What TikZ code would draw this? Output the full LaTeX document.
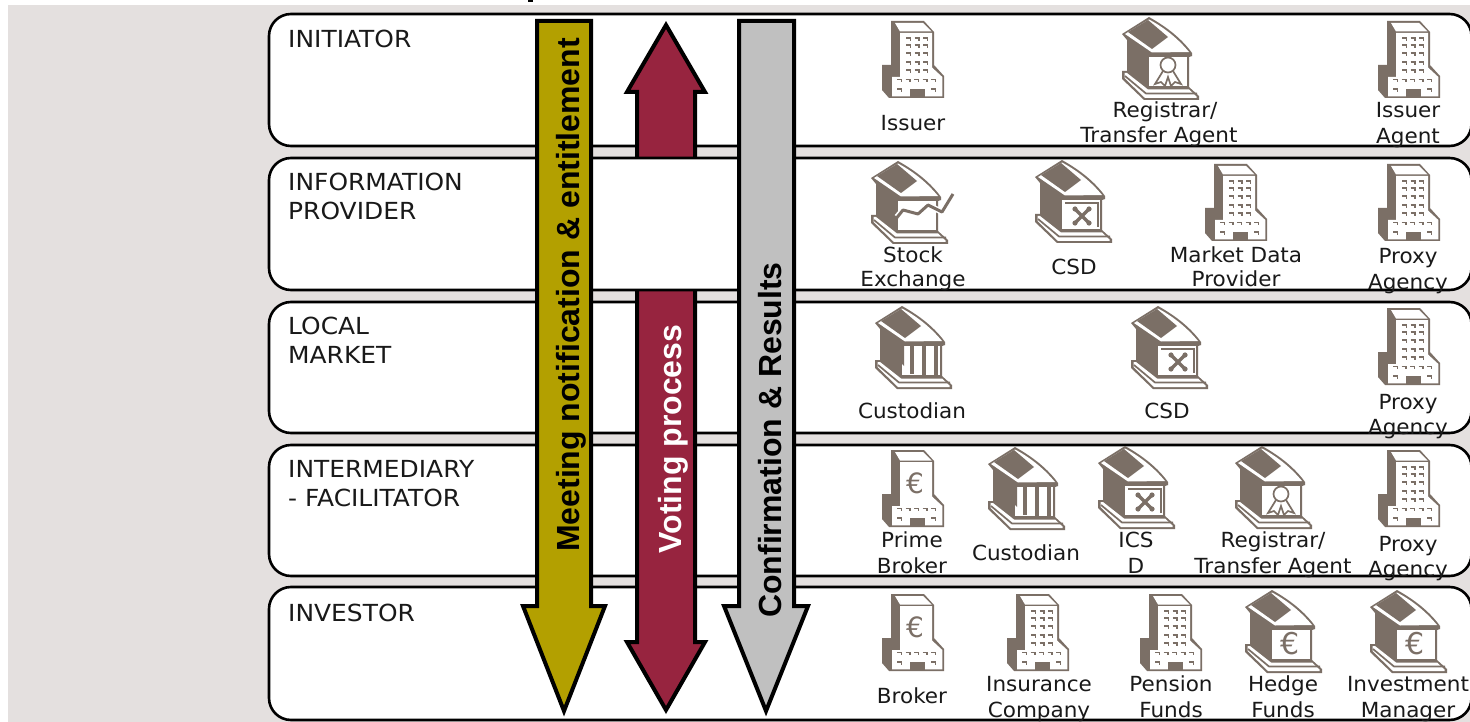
\documentclass[tikz,border=0pt]{standalone}
\usepackage{fontspec}
\setmainfont{DejaVu Sans}
\newfontfamily\arrowfont{Liberation Sans}
\newfontfamily\rowfont{DejaVu Sans}[FakeStretch=1.06]
\newfontfamily\itemfont{DejaVu Sans}[FakeStretch=1.035]
\newfontfamily\eurofont{DejaVu Sans}
\definecolor{pagebg}{HTML}{E4E0DF}
\definecolor{icondark}{HTML}{7B6F66}
\definecolor{olivearrow}{HTML}{B3A000}
\definecolor{maroonarrow}{HTML}{97243F}
\definecolor{greyarrow}{HTML}{C0C0C0}
\tikzset{
  rowbox/.style={draw=black,fill=white,line width=2.6pt,rounded corners=22pt},
  bigarrow/.style={draw=black,line width=4pt,miter limit=10,line join=miter},
  rowlabel/.style={anchor=base west,inner sep=0pt,font=\rowfont\fontsize{23.5}{28}\selectfont,text=black!90},
  itemlabel/.style={anchor=base,inner sep=0pt,font=\itemfont\fontsize{20.8}{25}\selectfont,text=black!90},
  arrowlabel/.style={anchor=base,rotate=90,inner sep=0pt,font=\arrowfont\bfseries\fontsize{32}{38}\selectfont},
  iconfill/.style={fill=icondark,draw=none},
  iconwhite/.style={fill=white,draw=none},
  iconline/.style={draw=icondark,line width=1.7pt},
}
\newcommand{\winmark}[2]{\draw[iconline] (#1,#2) -- ++(4.5,0) -- ++(0,2.8);}
\newcommand{\towerbody}{%
  \fill[iconfill] (9,0) -- (42,0) -- (52,11) -- (52,44) -- (62,55) -- (62,77) -- (7,77) -- (0,69) -- (0,44) -- (9,44) -- cycle;
  \fill[iconwhite] (13,2) -- (41,2) -- (49.5,10.5) -- (18,10.5) -- cycle;
  \fill[iconwhite] (18,12) -- (50,12) -- (50,46.5) -- (60.3,56) -- (60.3,75.3) -- (10,75.3) -- (10,56) -- (18,56) -- cycle;
  \fill[iconfill] (28,68) rectangle (43,77);
  \foreach \wx in {15,23.5,32,40.5,49} {\winmark{\wx}{58.5}}
  \winmark{15}{68}\winmark{49}{68}
}
\newcommand{\towerwin}[2]{\begin{scope}[shift={(#1,#2)}]\towerbody
  \foreach \wy in {17,24,32,41,49} \foreach \wx in {24,32.5,41} {\winmark{\wx}{\wy}}
\end{scope}}
\newcommand{\towereuro}[2]{\begin{scope}[shift={(#1,#2)}]\towerbody
  \node[inner sep=0pt,text=icondark,font=\eurofont\fontsize{28}{28}\selectfont] (e#1x#2) at (33,33) {€};
\end{scope}}
\newcommand{\templebody}{%
  \fill[iconfill] (0,17) -- (27,0) .. controls (45,10) and (60,22) .. (70,36) -- (70,39) -- (67,40) -- (67,70) -- (77,79) -- (77,83) -- (22,83) -- (0,62) -- (0,54) -- (5,54) -- (5,23) -- cycle;
  \fill[iconwhite] (3,17) -- (27,2.5) .. controls (44,11.5) and (57,23) .. (67,35) -- (30,35.5) -- cycle;
  \fill[iconfill] (6,15) -- (26,3) -- (46,20) -- (30,32) -- cycle;
  \fill[iconwhite] (27,40) rectangle (65,69);
  \fill[iconwhite] (2.5,56) -- (5,56) -- (26,72.5) -- (67,72.5) -- (74.5,79.5) -- (74.5,81) -- (23,81) -- (2.5,61) -- cycle;
  \draw[iconline] (3,59) -- (24,76.5) -- (75,76.5);
}
\newcommand{\templesafe}[2]{\begin{scope}[shift={(#1,#2)}]\templebody
  \draw[icondark,line width=1.5pt] (30,43) -- (63,43) -- (63,67);
  \draw[icondark,line width=3.4pt] (41,50) -- (53,62) (53,50) -- (41,62);
  \foreach \cx/\cy in {40/49,54/49,40/63,54/63} {\fill[icondark] (\cx,\cy) circle (2.6);}
\end{scope}}
\newcommand{\templeribbon}[2]{\begin{scope}[shift={(#1,#2)}]\templebody
  \draw[iconline] (46,48) circle (7.5);
  \draw[iconline] (41,54) -- (33,67) -- (39,65) -- (43,69) -- (46,60) -- (49,69) -- (53,65) -- (59,67) -- (51,54);
\end{scope}}
\newcommand{\templeeuro}[2]{\begin{scope}[shift={(#1,#2)}]\templebody
  \node[inner sep=0pt,text=icondark,font=\eurofont\fontsize{30}{30}\selectfont] (e#1y#2) at (45,54) {€};
\end{scope}}
\newcommand{\templecol}[2]{\begin{scope}[shift={(#1,#2)}]\templebody
  \fill[iconfill] (27,40) -- (29,40) -- (29,60) -- (27,58) -- cycle;
  \fill[iconfill] (35,38) rectangle (39,68);
  \fill[iconfill] (47,38) rectangle (51,70);
  \fill[iconfill] (59,38) rectangle (63,70);
\end{scope}}
\newcommand{\templechart}[2]{\begin{scope}[shift={(#1,#2)}]\templebody
  \draw[white,line width=6pt,line join=round] (26,56) -- (32,49) -- (47,53) -- (57,44) -- (71,51) -- (82,33);
  \draw[icondark,line width=3pt,line join=round] (24,59) -- (32,49) -- (47,53) -- (57,44) -- (71,51) -- (82,33);
\end{scope}}
\begin{document}
\begin{tikzpicture}[x=1pt,y=-1pt]
\useasboundingbox (0,0) rectangle (1470,722);
\clip (0,0) rectangle (1470,722);
\fill[white] (0,0) rectangle (1470,722);
\fill[pagebg] (8,5) rectangle (1470,722);
\fill[black] (528,0) rectangle (533,1.7);
% rows 1 and 3-5 and the maroon arrow beneath row 2
\draw[rowbox] (269,14) rectangle (1471.5,146);
\draw[rowbox] (269,302) rectangle (1471.5,433);
\draw[rowbox] (269,445) rectangle (1471.5,576);
\draw[rowbox] (269,587) rectangle (1471.5,720);
\draw[bigarrow,fill=maroonarrow] (666,25) -- (705,92) -- (695,92) -- (695,642) -- (705,642) -- (666,710) -- (627,642) -- (637,642) -- (637,92) -- (627,92) -- cycle;
\draw[rowbox] (269,158) rectangle (1471.5,290);
\draw[bigarrow,fill=olivearrow] (537,21) -- (591,21) -- (591,606) -- (605,606) -- (564,711) -- (523,606) -- (537,606) -- cycle;
\draw[bigarrow,fill=greyarrow] (739,21) -- (794,21) -- (794,606) -- (808,606) -- (766,711) -- (724,606) -- (739,606) -- cycle;
\node[arrowlabel] (meeting) at (579,295) {Meeting notification \& entitlement};
\node[arrowlabel,text=white] (voting) at (681,439) {Voting process};
\node[arrowlabel] (confirm) at (781,440) {Confirmation \& Results};
% row labels
\foreach \ly/\lt [count=\li] in {48/INITIATOR,191/INFORMATION,220/PROVIDER,334/LOCAL,363/MARKET,477/INTERMEDIARY,506/- FACILITATOR,621/INVESTOR}
  \node[rowlabel] (row\li) at (288,\ly) {\lt};
% icons
\towerwin{882}{21}\templeribbon{1122}{17}\towerwin{1378}{21}
\templechart{871}{161}\templesafe{1035}{160}\towerwin{1205}{164}\towerwin{1378}{164}
\templecol{875}{306}\templesafe{1131}{306}\towerwin{1378}{308}
\towereuro{882}{450}\templecol{988}{447}\templesafe{1098}{446}\templeribbon{1235}{446}\towerwin{1378}{450}
\towereuro{882}{594}\towerwin{1007}{594}\towerwin{1140}{594}\templeeuro{1245}{590}\templeeuro{1370}{590}
% item labels
\foreach \ix/\iy/\it [count=\ii] in {
  913/131/Issuer,1165/118/{Registrar/},1159/143/Transfer Agent,1408/118/Issuer,1408/144/Agent,
  913/262/Stock,913/287/Exchange,1074/274/CSD,1236/262/Market Data,1236/287/Provider,1408/264/Proxy,1408/289/Agency,
  912/418/Custodian,1167/418/CSD,1408/409/Proxy,1408/434/Agency,
  912/547/Prime,912/573/Broker,1026/560/Custodian,1136/547/ICS,1136/573/D,1273/547/{Registrar/},1273/573/Transfer Agent,1408/551/Proxy,1408/576/Agency,
  912/703/Broker,1039/691/Insurance,1039/717/Company,1171/691/Pension,1171/717/Funds,1283/691/Hedge,1283/717/Funds,1408/691/Investment,1408/717/Manager}
  \node[itemlabel] (item\ii) at (\ix,\iy) {\it};
\end{tikzpicture}
\end{document}
